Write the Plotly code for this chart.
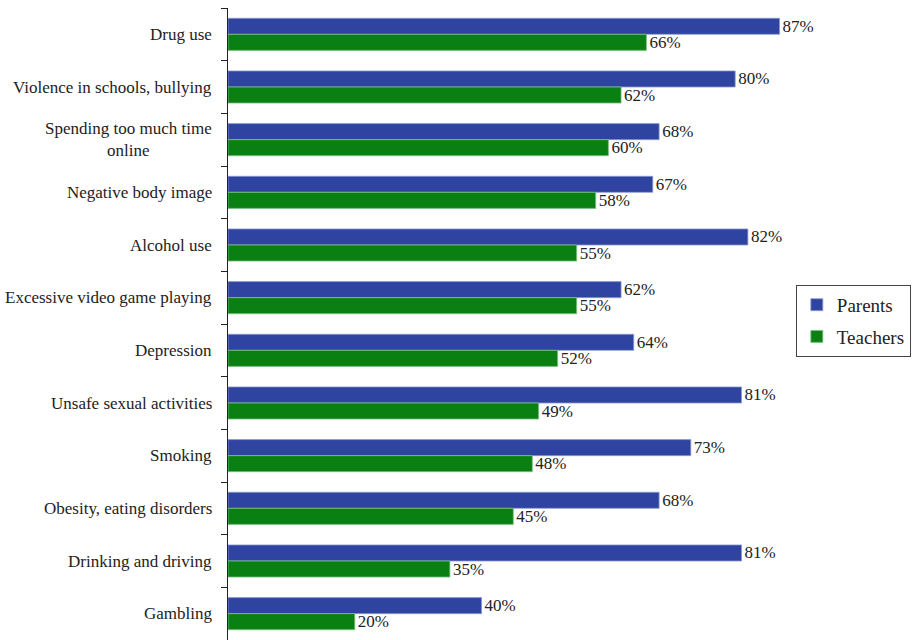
import plotly.graph_objects as go

categories = [
    "Drug use",
    "Violence in schools, bullying",
    "Spending too much time<br>online",
    "Negative body image",
    "Alcohol use",
    "Excessive video game playing",
    "Depression",
    "Unsafe sexual activities",
    "Smoking",
    "Obesity, eating disorders",
    "Drinking and driving",
    "Gambling",
]
parents = [87, 80, 68, 67, 82, 62, 64, 81, 73, 68, 81, 40]
teachers = [66, 62, 60, 58, 55, 55, 52, 49, 48, 45, 35, 20]

FONT = "Liberation Serif"

fig = go.Figure()
fig.add_trace(go.Bar(
    y=categories, x=parents, name="Parents", orientation="h", legendgroup="p",
    marker=dict(color="#2F44A0", line=dict(color="#8E9BD0", width=0.8)),
    texttemplate="%{x}%", textposition="outside", constraintext="none",
    cliponaxis=False, textfont=dict(family=FONT, size=17, color="#222"),
))
fig.add_trace(go.Bar(
    y=categories, x=teachers, name="Teachers", orientation="h", legendgroup="t",
    marker=dict(color="#0A7F12", line=dict(color="#7FC285", width=0.8)),
    texttemplate="%{x}%", textposition="outside", constraintext="none",
    cliponaxis=False, textfont=dict(family=FONT, size=17, color="#222"),
))

for c in categories:
    fig.add_annotation(
        x=0, xref="paper", y=c, yref="y", text=c, showarrow=False,
        xanchor="right", align="center", xshift=-14,
        font=dict(family=FONT, size=17, color="#222"),
    )

fig.update_layout(
    width=912, height=640,
    margin=dict(l=228, r=50, t=8, b=0),
    barmode="group", bargap=0.39, bargroupgap=0,
    plot_bgcolor="white", paper_bgcolor="white",
    font=dict(family=FONT, size=17, color="#222"),
    showlegend=True,
    legend=dict(
        x=1.077, y=0.505, xanchor="right", yanchor="middle",
        bordercolor="#444", borderwidth=1, bgcolor="white",
        font=dict(family=FONT, size=19, color="#222"),
        traceorder="grouped", tracegroupgap=4,
    ),
    xaxis=dict(range=[0, 100], visible=False, showgrid=False, zeroline=False),
    yaxis=dict(
        autorange="reversed", showticklabels=False, showgrid=False,
        showline=True, linecolor="#222", linewidth=1,
        ticks="outside", tickson="boundaries", ticklen=6, tickcolor="#222",
    ),
)

fig.write_html("out.html")
